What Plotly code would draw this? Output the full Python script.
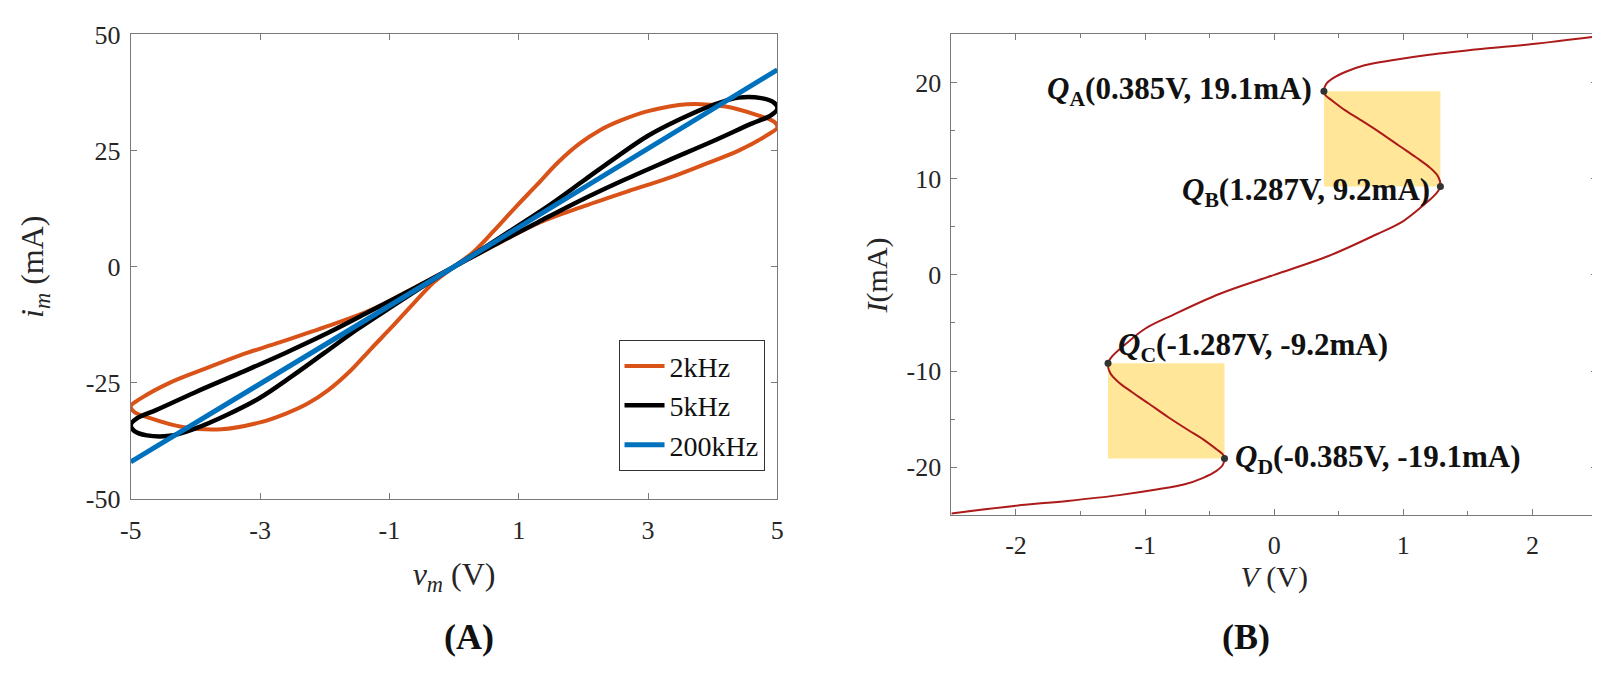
import plotly.graph_objects as go

# (A) pinched hysteresis loops, v_m (V) vs i_m (mA)
v_2k = [0, 0.3, 0.6, 0.95, 1.28, 1.61, 1.94, 2.27, 2.6, 3.0, 3.6, 4.2, 4.7, 4.95, 5.0, 4.85, 4.4, 3.9, 3.3, 2.7,
        2.0, 1.3, 0.6, 0, -0.6, -1.3, -2.0, -2.7, -3.3, -3.9, -4.4, -4.85, -5.0, -4.95, -4.7, -4.2, -3.6, -3.0,
        -2.6, -2.27, -1.94, -1.61, -1.28, -0.95, -0.6, -0.3, 0]
i_2k = [0, 3.2, 7.5, 12.8, 17.6, 22.5, 26.5, 29.5, 31.6, 33.5, 35, 34.5, 32.6, 31.2, 30, 28.4, 25, 22.2, 19, 16.3,
        13, 9.4, 4.4, 0, -4.4, -9.4, -13, -16.3, -19, -22.2, -25, -28.4, -30, -31.2, -32.6, -34.5, -35, -33.5,
        -31.6, -29.5, -26.5, -22.5, -17.6, -12.8, -7.5, -3.2, 0]

v_5k = [0, 0.5, 1.0, 1.5, 2.0, 2.5, 3.0, 3.5, 4.0, 4.4, 4.75, 4.95, 5.0, 4.9, 4.6, 4.0, 3.3, 2.6, 1.9, 1.3, 0.6,
        0, -0.6, -1.3, -1.9, -2.6, -3.3, -4.0, -4.6, -4.9, -5.0, -4.95, -4.75, -4.4, -4.0, -3.5, -3.0, -2.5, -2.0,
        -1.5, -1.0, -0.5, 0]
i_5k = [0, 4.4, 8.9, 13.5, 18.5, 23.5, 28.2, 31.8, 34.8, 36.4, 36.3, 35.3, 34, 32.6, 30.8, 27.0, 22.8, 18.5, 13.9,
        9.6, 4.5, 0, -4.5, -9.6, -13.9, -18.5, -22.8, -27.0, -30.8, -32.6, -34, -35.3, -36.3, -36.4, -34.8, -31.8,
        -28.2, -23.5, -18.5, -13.5, -8.9, -4.4, 0]

v_200k = [-5, 0, 5]
i_200k = [-42, 0, 42.4]

x_ticks_a = [-5, -3, -1, 1, 3, 5]
y_ticks_a = [-50, -25, 0, 25, 50]

# (B) I-V curve with fold points
v_curve = [-2.5, -2.0, -1.6, -1.2, -0.9, -0.7, -0.55, -0.45, -0.4, -0.385, -0.395, -0.45, -0.55, -0.67, -0.82,
           -0.97, -1.1, -1.21, -1.27, -1.287, -1.25, -1.16, -1.0, -0.79, -0.42, 0, 0.42, 0.79, 1.0, 1.16, 1.25,
           1.287, 1.27, 1.21, 1.1, 0.97, 0.82, 0.67, 0.55, 0.45, 0.395, 0.385, 0.4, 0.45, 0.55, 0.7, 0.9, 1.2,
           1.6, 2.0, 2.5]
i_curve = [-24.8, -24.0, -23.5, -22.9, -22.3, -21.8, -21.1, -20.4, -19.8, -19.1, -18.7, -18.1, -17.1, -16.1,
           -14.8, -13.4, -12.2, -11.1, -10.2, -9.2, -8.4, -7.3, -5.6, -4.2, -1.96, 0, 1.96, 4.2, 5.6, 7.3, 8.4,
           9.2, 10.2, 11.1, 12.2, 13.4, 14.8, 16.1, 17.1, 18.1, 18.7, 19.1, 19.8, 20.4, 21.1, 21.8, 22.3, 22.9,
           23.5, 24.0, 24.8]

x_ticks_b = [-2, -1, 0, 1, 2]
y_ticks_b = [-20, -10, 0, 10, 20]

q_names = ["A", "B", "C", "D"]
q_v = [0.385, 1.287, -1.287, -0.385]
q_i = [19.1, 9.2, -9.2, -19.1]

FONT = "Liberation Serif"
AX_COLOR = "#7a7a7a"
TXT = "#262626"


def lbl(v):
    # MATLAB style labels use a plain hyphen
    return ("-%g" % -v) if v < 0 else "%g" % v


fig = go.Figure()

fig.add_trace(go.Scatter(x=v_2k, y=i_2k, mode="lines", name="2kHz",
                         line=dict(color="#D95319", width=4, shape="spline", smoothing=1)))
fig.add_trace(go.Scatter(x=v_5k, y=i_5k, mode="lines", name="5kHz",
                         line=dict(color="#000000", width=4.5, shape="spline", smoothing=1)))
fig.add_trace(go.Scatter(x=v_200k, y=i_200k, mode="lines", name="200kHz",
                         line=dict(color="#0072BD", width=5)))

fig.add_trace(go.Scatter(x=v_curve, y=i_curve, mode="lines", showlegend=False, xaxis="x2", yaxis="y2",
                         line=dict(color="#AD1A1A", width=2, shape="spline", smoothing=1)))
fig.add_trace(go.Scatter(x=q_v, y=q_i, mode="markers", showlegend=False, xaxis="x2", yaxis="y2",
                         marker=dict(color="#333333", size=7)))

# shaded negative-slope regions
for k in (0, 2):
    fig.add_shape(type="rect", xref="x2", yref="y2", layer="below", line_width=0,
                  fillcolor="#FFE699",
                  x0=min(q_v[k], q_v[k + 1]), x1=max(q_v[k], q_v[k + 1]),
                  y0=min(q_i[k], q_i[k + 1]), y1=max(q_i[k], q_i[k + 1]))

# point labels
anchors = [("right", -10, 0), ("right", -8, -6), ("left", 8, 16), ("left", 8, 0)]
for n, v, i, (xa, xs, ys) in zip(q_names, q_v, q_i, anchors):
    fig.add_annotation(x=v, y=i, xref="x2", yref="y2", showarrow=False, xanchor=xa, xshift=xs, yshift=ys,
                       text="<b><i>Q</i><sub>%s</sub>(%sV, %smA)</b>" % (n, lbl(v), lbl(i)),
                       font=dict(family=FONT, size=31, color="#111111"))

# panel labels
fig.add_annotation(x=428 / 1600, y=1 - 665 / 689, xref="paper", yref="paper", showarrow=False,
                   text="<b>(A)</b>", font=dict(family=FONT, size=36, color="#111111"))
fig.add_annotation(x=1267 / 1600, y=1 - 665 / 689, xref="paper", yref="paper", showarrow=False,
                   text="<b>(B)</b>", font=dict(family=FONT, size=36, color="#111111"))

axis_common = dict(showline=True, linecolor=AX_COLOR, linewidth=1, mirror="ticks", ticks="inside",
                   ticklen=6, tickcolor=AX_COLOR, showgrid=False, zeroline=False,
                   ticklabeloverflow="allow", tickmode="array",
                   tickfont=dict(family=FONT, size=26, color=TXT))

fig.update_layout(
    width=1600, height=689,
    margin=dict(l=0, r=0, t=0, b=0),
    paper_bgcolor="white", plot_bgcolor="white",
    font=dict(family=FONT, color=TXT),
    xaxis=dict(domain=[113 / 1600, 767 / 1600], range=[-5, 5],
               tickvals=x_ticks_a, ticktext=[lbl(t) for t in x_ticks_a], ticklabelstandoff=8,
               title=dict(text="<i>v<sub>m</sub></i> (V)", font=dict(family=FONT, size=32, color=TXT), standoff=18),
               anchor="y", **axis_common),
    yaxis=dict(domain=[1 - 498 / 689, 1 - 13 / 689], range=[-50, 50],
               tickvals=y_ticks_a, ticktext=[lbl(t) for t in y_ticks_a], ticklabelstandoff=4,
               title=dict(text="<i>i<sub>m</sub></i> (mA)", font=dict(family=FONT, size=32, color=TXT), standoff=32),
               anchor="x", **axis_common),
    xaxis2=dict(domain=[943 / 1600, 1596 / 1600], range=[-2.5, 2.5],
                tickvals=x_ticks_b, ticktext=[lbl(t) for t in x_ticks_b], ticklabelstandoff=6,
                minor=dict(tickvals=[-1.5, -0.5, 0.5, 1.5], ticks="inside", ticklen=4, tickcolor=AX_COLOR),
                title=dict(text="<i>V</i> (V)", font=dict(family=FONT, size=30, color=TXT), standoff=4),
                anchor="y2", **axis_common),
    yaxis2=dict(domain=[1 - 515 / 689, 1 - 13 / 689], range=[-25, 25],
                tickvals=y_ticks_b, ticktext=[lbl(t) for t in y_ticks_b], ticklabelstandoff=4,
                minor=dict(tickvals=[-15, -5, 5, 15], ticks="inside", ticklen=4, tickcolor=AX_COLOR),
                title=dict(text="<i>I</i>(mA)", font=dict(family=FONT, size=30, color=TXT), standoff=10),
                anchor="x2", **axis_common),
    legend=dict(x=754 / 1600, y=1 - 469 / 689, xanchor="right", yanchor="bottom",
                bgcolor="white", bordercolor="#333333", borderwidth=1,
                font=dict(family=FONT, size=28, color="#111111"), tracegroupgap=0, itemwidth=40),
)

fig.write_html("out.html")
